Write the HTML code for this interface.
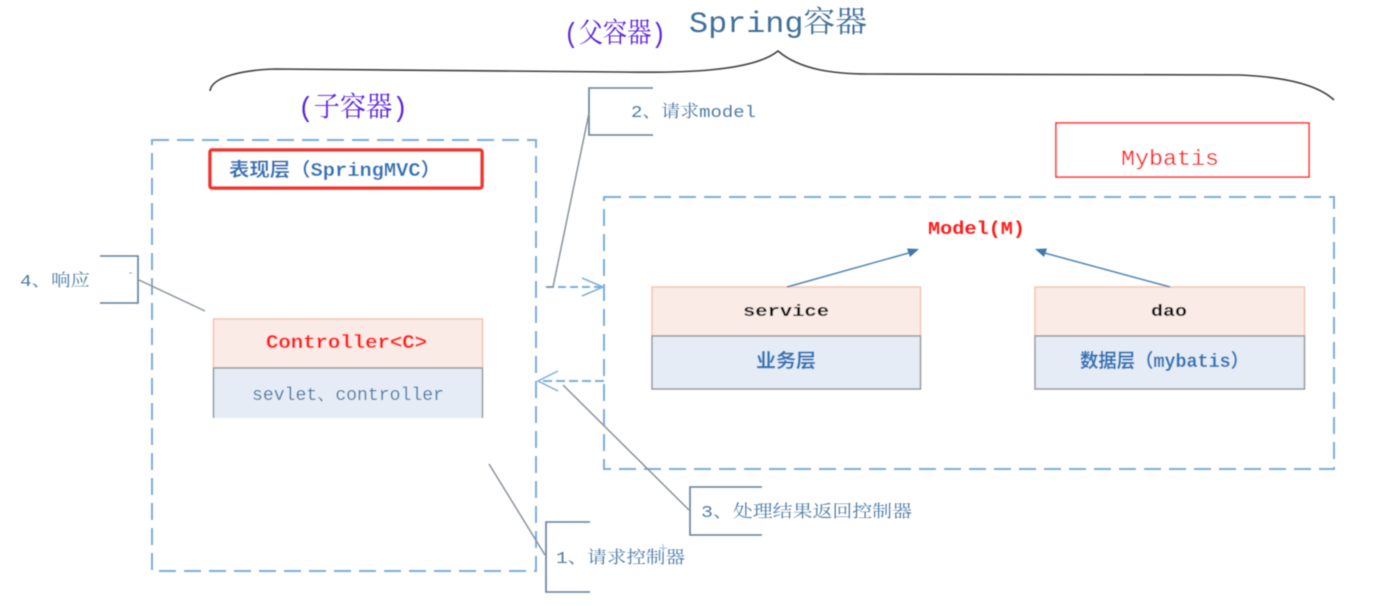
<!DOCTYPE html>
<html>
<head>
<meta charset="utf-8">
<style>
html,body{margin:0;padding:0;background:#fff;width:1394px;height:606px;overflow:hidden}
svg{display:block}
text{font-family:"Liberation Mono","Noto Serif CJK SC",monospace}
.cjk{font-family:"Liberation Mono","Noto Sans CJK SC",monospace}
.b{font-weight:bold;font-family:"Liberation Mono","Noto Sans CJK SC",monospace}
.note{fill:#4f7ca6;font-size:17px}
</style>
</head>
<body>
<svg width="1394" height="606" viewBox="0 0 1394 606" xmlns="http://www.w3.org/2000/svg">
<defs>
<filter id="s" x="-5%" y="-5%" width="110%" height="110%"><feGaussianBlur stdDeviation="0.6"/></filter>
</defs>
<g filter="url(#s)">
<!-- brace -->
<path d="M210 91 C212 76 245 70 275 69 L620 72 C680 73 752 72 778 51 C800 70 835 74 868 74 L1240 75 C1285 77 1318 85 1334 100" fill="none" stroke="#3f3f3f" stroke-width="1.6"/>
<!-- titles -->
<text x="689" y="32" font-size="30" fill="#3f7099" textLength="178" lengthAdjust="spacingAndGlyphs">Spring容器</text>
<text x="564" y="42" font-size="28" fill="#5a25dc" textLength="102" lengthAdjust="spacingAndGlyphs">(父容器)</text>
<text x="298" y="116" font-size="28" fill="#5a25dc" textLength="110" lengthAdjust="spacingAndGlyphs">(子容器)</text>

<!-- dashed containers -->
<rect x="152" y="140" width="384" height="431" fill="none" stroke="#7eaedb" stroke-width="2" stroke-dasharray="17 8"/>
<rect x="604" y="197" width="730" height="272" fill="none" stroke="#7eaedb" stroke-width="2" stroke-dasharray="17 8"/>

<!-- red title box -->
<rect x="210" y="150" width="272" height="38" rx="2" fill="#fff" stroke="#f0352a" stroke-width="3.5"/>
<text x="229" y="176" font-size="19" class="b" fill="#2e75b6" textLength="212" lengthAdjust="spacingAndGlyphs">表现层（SpringMVC）</text>

<!-- Mybatis -->
<rect x="1056" y="123" width="253" height="54" fill="#fff" stroke="#f33" stroke-width="1.6"/>
<text x="1121" y="165" font-size="22" fill="#f22" textLength="98" lengthAdjust="spacingAndGlyphs">Mybatis</text>

<!-- Controller -->
<rect x="213.500" y="319" width="269" height="49" fill="#fbebe6" stroke="#f6c4ae" stroke-width="1.5"/>
<path d="M213.500 418V368H482.500V418" fill="#e5ecf6" stroke="#9a9a9a" stroke-width="1.5"/>
<text x="266" y="348" font-size="19" class="b" fill="#ff1c1c" textLength="161" lengthAdjust="spacingAndGlyphs">Controller&lt;C&gt;</text>
<text x="252" y="400" font-size="18" fill="#4f7ca6" textLength="192" lengthAdjust="spacingAndGlyphs">sevlet、controller</text>

<!-- service -->
<rect x="652" y="287" width="268.500" height="49" fill="#fbebe6" stroke="#f6c4ae" stroke-width="1.5"/>
<rect x="652" y="336" width="268.500" height="53" fill="#e5ecf6" stroke="#9a9a9a" stroke-width="1.5"/>
<text x="743" y="316" font-size="17" class="b" fill="#111" textLength="86" lengthAdjust="spacingAndGlyphs">service</text>
<text x="756" y="367" font-size="19" class="b" fill="#2e75b6" textLength="60" lengthAdjust="spacingAndGlyphs">业务层</text>

<!-- dao -->
<rect x="1035" y="287" width="269.500" height="49" fill="#fbebe6" stroke="#f6c4ae" stroke-width="1.5"/>
<rect x="1035" y="336" width="269.500" height="53" fill="#e5ecf6" stroke="#9a9a9a" stroke-width="1.5"/>
<text x="1151" y="316" font-size="17" class="b" fill="#111" textLength="36" lengthAdjust="spacingAndGlyphs">dao</text>
<text x="1080" y="367" font-size="19" class="b" fill="#2e75b6" textLength="169" lengthAdjust="spacingAndGlyphs">数据层（mybatis）</text>

<!-- Model -->
<text x="928" y="234" font-size="18" class="b" fill="#ff1c1c" textLength="97" lengthAdjust="spacingAndGlyphs">Model(M)</text>

<!-- solid arrows -->
<path d="M787 287L914 251.500" fill="none" stroke="#4f85b5" stroke-width="1.5"/>
<path d="M919 249L907 248.500L910 257Z" fill="#3f78aa"/>
<path d="M1170 287L1041 252" fill="none" stroke="#4f85b5" stroke-width="1.5"/>
<path d="M1035 249L1047 248.500L1044 257Z" fill="#3f78aa"/>

<!-- dashed arrows -->
<path d="M546 287H602" fill="none" stroke="#7eaedb" stroke-width="2" stroke-dasharray="8 4"/>
<path d="M582 278L603 287L582 296" fill="none" stroke="#7eaedb" stroke-width="1.5"/>
<path d="M604 381H539" fill="none" stroke="#7eaedb" stroke-width="2" stroke-dasharray="9 4"/>
<path d="M558 371L538 381L558 391" fill="none" stroke="#7eaedb" stroke-width="1.5"/>

<!-- callout 2 -->
<path d="M653 88H589V135H653" fill="none" stroke="#5f7f9c" stroke-width="1.6"/>
<path d="M589 113L553 287H546" fill="none" stroke="#8a9299" stroke-width="1.5"/>
<text x="631" y="117" class="note" textLength="125" lengthAdjust="spacingAndGlyphs">2、请求model</text>

<!-- callout 4 -->
<path d="M100 256H138V303H100" fill="none" stroke="#5f7f9c" stroke-width="1.6"/>
<path d="M139 280L205 311" fill="none" stroke="#8a9299" stroke-width="1.5"/>
<text x="20" y="286" class="note" textLength="70" lengthAdjust="spacingAndGlyphs">4、响应</text>
<path d="M129 273h3" stroke="#9ab" stroke-width="1"/>

<!-- callout 3 -->
<path d="M762 487H690V535H762" fill="none" stroke="#5f7f9c" stroke-width="1.6"/>
<path d="M689 510L563 385" fill="none" stroke="#8a9299" stroke-width="1.5"/>
<text x="701" y="517" class="note" textLength="211" lengthAdjust="spacingAndGlyphs">3、处理结果返回控制器</text>

<!-- callout 1 -->
<path d="M590 522H546V592H590" fill="none" stroke="#5f7f9c" stroke-width="1.6"/>
<path d="M545 555L489 464" fill="none" stroke="#8a9299" stroke-width="1.5"/>
<text x="556" y="563" class="note" textLength="129" lengthAdjust="spacingAndGlyphs">1、请求控制器</text>
<path d="M659 548h8M663 544v8" stroke="#9cc0e6" stroke-width="1"/>
</g>
</svg>
</body>
</html>
